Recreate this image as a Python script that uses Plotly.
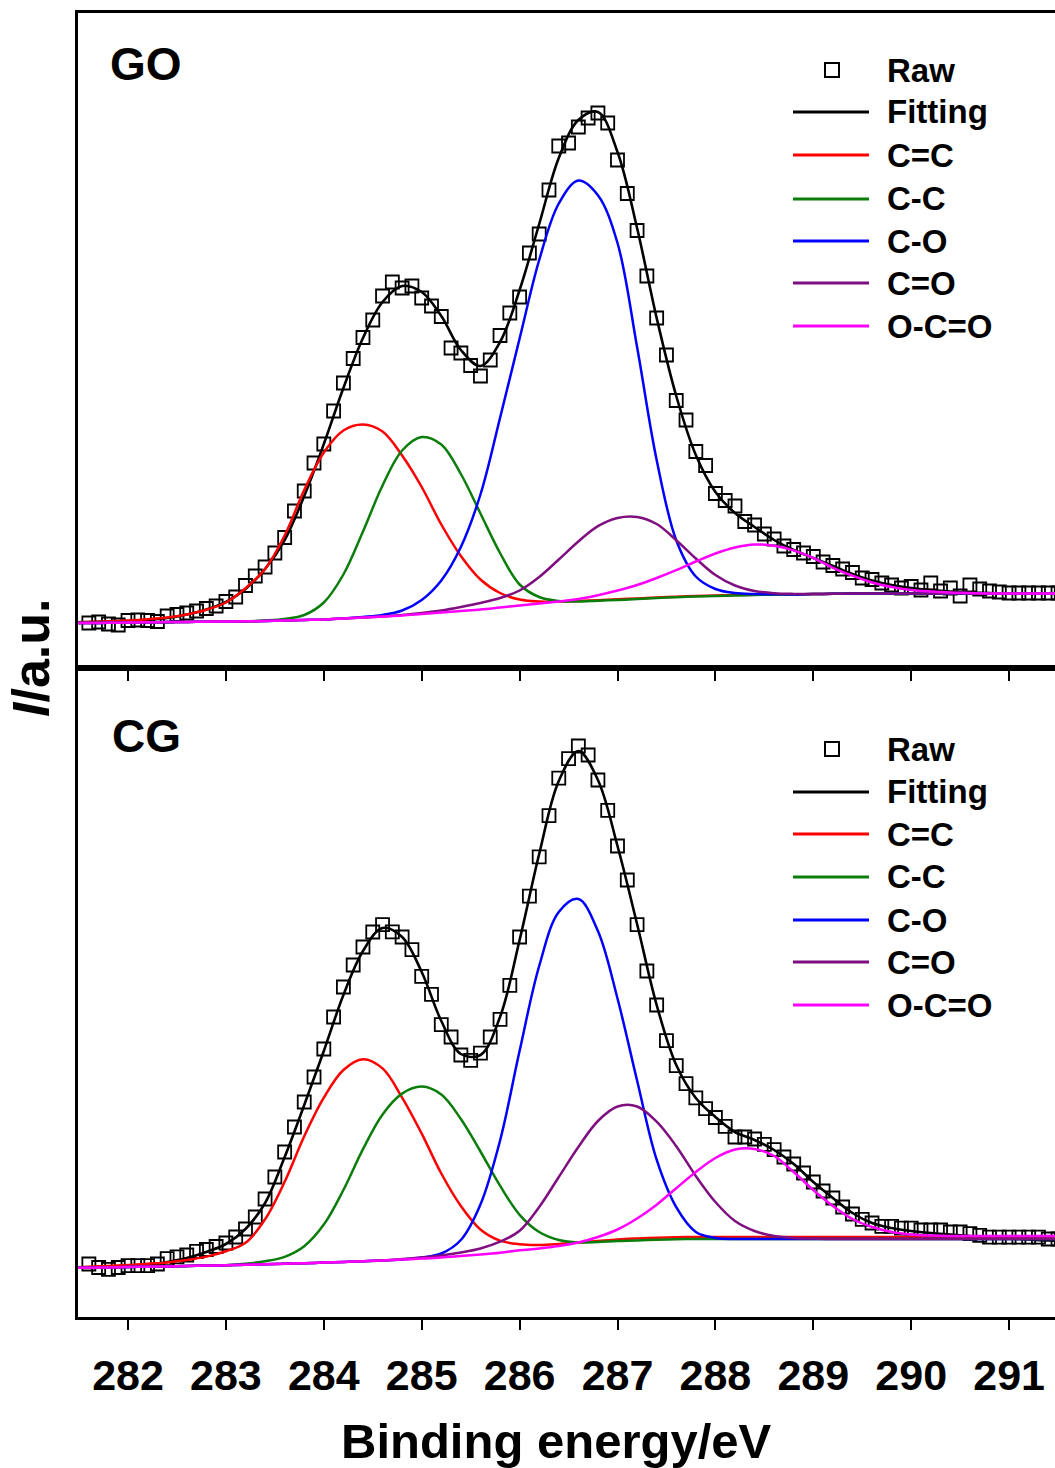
import plotly.graph_objects as go
from plotly.subplots import make_subplots

# ---------------- data ----------------
# raw data points, binding energy (eV)
raw_energy = [round(281.6 + 0.1 * i, 1) for i in range(100)]
raw_go = [45, 46, 44, 43, 47.5, 48, 47.5, 46.5, 52, 53.5,
          55, 57, 59.5, 62, 66.5, 71, 82.5, 92, 101, 115,
          130.5, 157, 177, 205, 224, 257, 285, 309.5, 330.5, 348,
          372, 386, 380, 382, 370, 362, 351.5, 320, 315, 302.5,
          292, 308, 332.5, 355, 371, 415, 434, 478, 522, 525,
          541, 550, 555, 545, 508, 474.5, 437.5, 392, 350, 313,
          267.5, 248, 216.5, 202.5, 174.5, 167.5, 162, 146.5, 143, 134,
          129, 122, 118.5, 115, 111.5, 106, 102.5, 99, 95.5, 90,
          88.5, 85, 83, 80, 81.5, 78, 85, 77, 80, 72,
          83, 79, 77, 76, 75, 75, 75, 75, 75, 75]
raw_cg = [53, 49.5, 47.7, 49.5, 51.3, 51.3, 51.3, 53, 58.4, 60.2,
          62, 65.6, 67.5, 70.5, 74, 80, 88, 100, 118, 140,
          165, 190, 215, 240, 268, 300, 330, 352, 370, 385,
          392.4, 385.2, 380, 367.4, 340.6, 322.7, 292.4, 280, 262, 256.6,
          263.8, 280, 297.7, 331.6, 380, 420.9, 460.2, 501.3, 538.8, 558.4,
          571, 562, 537, 506.6, 471, 437, 392.4, 346, 312, 276.3,
          251.3, 233.4, 219.1, 208.4, 199.5, 190.6, 180, 180, 178, 172.7,
          167.4, 160, 153, 144, 135, 126, 119, 110, 103, 97.7,
          94, 90.6, 90.6, 88.8, 88.8, 87, 87, 87, 85, 85,
          83.4, 81.6, 79.9, 79.9, 79.9, 79.9, 79.9, 79.9, 78, 78]

# fitted curves, sampled every 0.2 eV
fit_energy = [round(281.4 + 0.2 * i, 1) for i in range(52)]

fit_go = [45.5, 46, 46.5, 47, 48, 50, 53.5, 58.5, 66, 79,
          99, 128, 172, 224, 280, 330, 366, 382, 376, 352,
          318, 302, 326, 378, 444, 510, 548, 556, 516, 440,
          350, 272, 213, 176, 155, 141, 128, 118, 110, 102,
          94, 87.5, 83, 80, 78, 76.5, 75.5, 75, 74.5, 74.5, 74.5, 74.5]
bg_go = [45, 45, 45.2, 45.5, 45.7, 45.9, 46.1, 46.3, 46.5, 46.7,
         47, 47.5, 48, 48.5, 49.5, 50.5, 51.5, 52.5, 54, 55.5,
         57, 58.5, 60, 61.5, 63, 64.5, 65.5, 66.8, 68, 69,
         70, 70.8, 71.5, 72, 72.5, 73, 73.3, 73.6, 74, 74.2,
         74.4, 74.5, 74.5, 74.5, 74.5, 74.5, 74.5, 74.5, 74.5, 74.5, 74.5, 74.5]
cc_go = [0.5, 1, 1.5, 2, 3, 4.5, 7.5, 12, 19, 33,
         52, 85, 130, 167, 188, 193, 185, 160, 127, 88,
         55, 30, 15, 7, 3.5, 2, 1.5, 1, 0.8, 0.6,
         0.5, 0.5, 0.5, 0.5, 0.4, 0.3, 0.2, 0.1, 0, 0,
         0, 0, 0, 0, 0, 0, 0, 0, 0, 0, 0, 0]
c_c_go = [0, 0, 0, 0, 0, 0, 0, 0, 0, 0,
          0.5, 1.5, 5, 17, 44, 86, 131, 165, 177, 168,
          137, 96, 55, 22, 8, 2.5, 1, 0.5, 0, 0,
          0, 0, 0, 0, 0, 0, 0, 0, 0, 0,
          0, 0, 0, 0, 0, 0, 0, 0, 0, 0, 0, 0]
c_o_go = [0, 0, 0, 0, 0, 0, 0, 0, 0, 0,
          0, 0, 0, 0, 0, 0.5, 1.5, 5, 14, 32,
          64, 115, 190, 268, 345, 400, 422, 406, 357, 252,
          138, 57, 20, 7, 2.5, 1, 0.5, 0, 0, 0,
          0, 0, 0, 0, 0, 0, 0, 0, 0, 0, 0, 0]
co_go = [0, 0, 0, 0, 0, 0, 0, 0, 0, 0,
         0, 0, 0, 0, 0, 0, 0, 0.5, 1, 2,
         4, 6.5, 10, 16, 28, 44, 61, 75, 82, 82,
         74, 57, 38, 21, 10, 4, 1.5, 0.5, 0, 0,
         0, 0, 0, 0, 0, 0, 0, 0, 0, 0, 0, 0]
oco_go = [0, 0, 0, 0, 0, 0, 0, 0, 0, 0,
          0, 0, 0, 0, 0, 0, 0, 0, 0, 0,
          0, 0, 0.5, 1, 1.5, 2, 3.5, 6, 9.5, 14,
          20, 27, 35, 42.5, 48, 50.5, 49, 44, 36, 26,
          18, 11, 6.5, 3.5, 2, 1, 0.5, 0, 0, 0, 0, 0]

fit_cg = [49.5, 49.5, 49.8, 50.5, 51.5, 55, 59, 65, 73, 88,
          114, 160, 212, 266, 322, 366, 389, 380, 345, 296,
          263, 262, 300, 377, 463, 536, 566, 537, 471, 393,
          312, 252, 219, 200, 185, 177, 167, 153, 135, 119,
          104, 94, 89, 86, 84, 82.5, 81, 79.5, 78.5, 77.5, 76.5, 76]
bg_cg = [49, 49.3, 49.6, 50, 50.3, 50.6, 51, 51.4, 51.8, 52.2,
         52.7, 53.2, 53.8, 54.4, 55, 55.8, 56.6, 57.4, 58.4, 59.5,
         61, 62.5, 64.3, 66.2, 68, 70, 72, 74, 75.5, 76.5,
         77.3, 77.8, 78, 78, 78, 78, 78, 78, 78, 78,
         78, 78, 78, 78, 78, 78, 78, 78, 78, 78, 78, 78]
cc_cg = [0.5, 1, 1.5, 2, 3, 4, 6, 9, 14, 22,
         45, 82, 127, 165, 192, 202, 192, 162, 125, 84,
         50, 25, 12, 6.5, 4, 3, 2.5, 2, 2, 2,
         2, 2, 2, 2, 2, 2, 2, 2, 2, 2,
         2, 2, 2, 2, 2, 2, 2, 2, 2, 2, 2, 2]
c_c_cg = [0, 0, 0, 0, 0, 0, 0, 0, 0, 1,
          3, 7, 17, 38, 72, 112, 146, 166, 172, 163,
          137, 103, 67, 36, 17, 7, 2.5, 1, 0.5, 0,
          0, 0, 0, 0, 0, 0, 0, 0, 0, 0,
          0, 0, 0, 0, 0, 0, 0, 0, 0, 0, 0, 0]
c_o_cg = [0, 0, 0, 0, 0, 0, 0, 0, 0, 0,
          0, 0, 0, 0, 0, 0, 0, 0, 1, 4,
          16, 50, 112, 200, 283, 335, 346, 312, 243, 160,
          80, 32, 7, 1, 0, 0, 0, 0, 0, 0,
          0, 0, 0, 0, 0, 0, 0, 0, 0, 0, 0, 0]
co_cg = [0, 0, 0, 0, 0, 0, 0, 0, 0, 0,
         0, 0, 0, 0, 0, 0, 0, 0.5, 1, 2,
         3.5, 6, 11, 20, 42, 70, 98, 122, 135, 134,
         118, 93, 63, 37, 18, 8, 3, 1, 0.5, 0,
         0, 0, 0, 0, 0, 0, 0, 0, 0, 0, 0, 0]
oco_cg = [0, 0, 0, 0, 0, 0, 0, 0, 0, 0,
          0, 0, 0, 0, 0, 0, 0, 0, 0, 0,
          0, 0, 0, 0.5, 0.5, 1, 2.5, 6, 12, 22,
          35, 51, 67, 81, 89.5, 90, 83, 67, 49, 33,
          20, 12, 7, 4.5, 3.5, 3, 3, 3, 3, 3, 3, 3]

x_ticks = [282, 283, 284, 285, 286, 287, 288, 289, 290, 291]
component_names = ["C=C", "C-C", "C-O", "C=O", "O-C=O"]
component_colors = ["#ff0000", "#0b7d0b", "#0000ff", "#7f0f80", "#ff00ff"]
panels = [
    ("GO", raw_go, fit_go, bg_go, [cc_go, c_c_go, c_o_go, co_go, oco_go]),
    ("CG", raw_cg, fit_cg, bg_cg, [cc_cg, c_c_cg, c_o_cg, co_cg, oco_cg]),
]

# ---------------- figure ----------------
W, H = 1055, 1468
L, R, T, B = 78, 0, 13, 151
PH = H - T - B
SPLIT = 668  # pixel row of the boundary between panels
FONT = "Liberation Sans, Arial, Helvetica, sans-serif"


def px_x(px):
    return (px - L) / (W - L - R)


def px_y(py):
    return (H - B - py) / PH


fig = make_subplots(rows=2, cols=1, shared_xaxes=True, vertical_spacing=0)

for row, (label, raw, fit, bg, comps) in enumerate(panels, start=1):
    fig.add_trace(go.Scatter(
        x=raw_energy, y=raw, mode="markers", name="Raw", showlegend=False,
        marker=dict(symbol="square-open", size=13, color="black",
                    line=dict(width=1.8, color="black"))), row=row, col=1)
    fig.add_trace(go.Scatter(
        x=fit_energy, y=fit, mode="lines", name="Fitting", showlegend=False,
        line=dict(color="black", width=2.6, shape="spline", smoothing=1.0)),
        row=row, col=1)
    for name, color, comp in zip(component_names, component_colors, comps):
        total = [b + c for b, c in zip(bg, comp)]
        fig.add_trace(go.Scatter(
            x=fit_energy, y=total, mode="lines", name=name, showlegend=False,
            line=dict(color=color, width=2.5, shape="spline", smoothing=1.0)),
            row=row, col=1)

x_range = [281.489, 291.469]
axis_common = dict(range=x_range, tickvals=x_ticks, ticks="outside", ticklen=10,
                   tickwidth=2, tickcolor="black", showline=True, linewidth=3,
                   linecolor="black", mirror=True, showgrid=False, zeroline=False)
fig.update_xaxes(**axis_common, showticklabels=False, row=1, col=1)
fig.update_xaxes(**axis_common, showticklabels=True, ticklabelstandoff=8,
                 tickfont=dict(family=FONT, size=43, color="black", weight="bold"),
                 row=2, col=1)

fig.update_layout(
    yaxis=dict(domain=[px_y(SPLIT), 1], range=[0, SPLIT - T]),
    yaxis2=dict(domain=[0, px_y(SPLIT)], range=[0, H - B - SPLIT]),
)
fig.update_yaxes(showline=True, linewidth=3, linecolor="black", ticks="",
                 showticklabels=False, showgrid=False, zeroline=False)

annotations = []
shapes = []
# panel labels
annotations.append(dict(text="<b>GO</b>", x=px_x(108), y=px_y(64), xref="paper", yref="paper",
                        xanchor="left", yanchor="middle", showarrow=False,
                        font=dict(family=FONT, size=46, color="black")))
annotations.append(dict(text="<b>CG</b>", x=px_x(110), y=px_y(736), xref="paper", yref="paper",
                        xanchor="left", yanchor="middle", showarrow=False,
                        font=dict(family=FONT, size=46, color="black")))
# axis titles
annotations.append(dict(text="<b>Binding energy/eV</b>", x=px_x(556), y=px_y(1441),
                        xref="paper", yref="paper", xanchor="center", yanchor="middle",
                        showarrow=False, font=dict(family=FONT, size=49, color="black")))
annotations.append(dict(text="<b><i>I</i>/a.u.</b>", x=px_x(31), y=px_y(658),
                        xref="paper", yref="paper", xanchor="center", yanchor="middle",
                        textangle=-90, showarrow=False,
                        font=dict(family=FONT, size=52, color="black")))

# legends (one per panel)
legend_rows = [[70, 112, 155, 199, 241, 283, 326],
               [749, 792, 834, 877, 920, 962, 1005]]
legend_labels = ["Raw", "Fitting"] + component_names
legend_colors = ["black", "black"] + component_colors
for rows_px in legend_rows:
    for i, (lab, col, py) in enumerate(zip(legend_labels, legend_colors, rows_px)):
        if i == 0:
            shapes.append(dict(type="rect", xref="paper", yref="paper",
                               x0=px_x(825), x1=px_x(839), y0=px_y(py + 7), y1=px_y(py - 7),
                               line=dict(color="black", width=2)))
        else:
            shapes.append(dict(type="line", xref="paper", yref="paper",
                               x0=px_x(793), x1=px_x(869), y0=px_y(py), y1=px_y(py),
                               line=dict(color=col, width=3)))
        annotations.append(dict(text="<b>%s</b>" % lab, x=px_x(885), y=px_y(py),
                                xref="paper", yref="paper", xanchor="left", yanchor="middle",
                                showarrow=False, font=dict(family=FONT, size=33, color="black")))

fig.update_layout(
    width=W, height=H,
    margin=dict(l=L, r=R, t=T, b=B),
    paper_bgcolor="white", plot_bgcolor="white",
    showlegend=False,
    annotations=annotations, shapes=shapes,
    font=dict(family=FONT, color="black"),
)

fig.write_html("out.html",
               config={"displayModeBar": False},
               post_script="document.body.style.margin='0px';"
                           "document.body.style.overflow='hidden';")
